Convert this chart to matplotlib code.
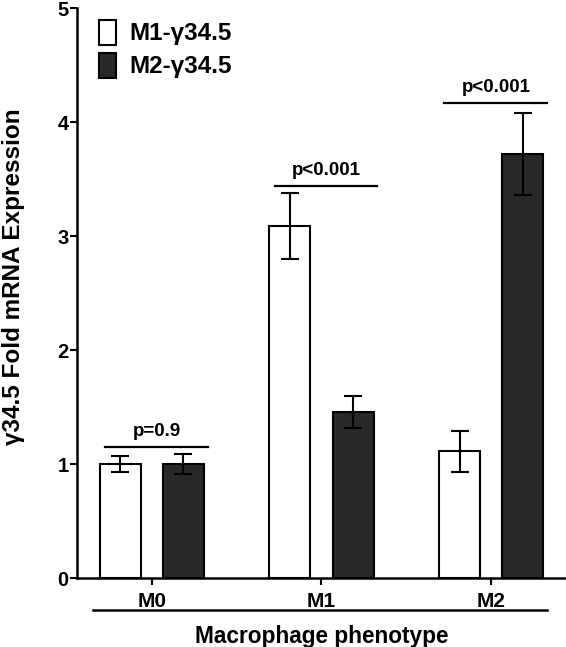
import matplotlib
matplotlib.use('Agg')
import matplotlib.pyplot as plt
from matplotlib.patches import Patch
import numpy as np

plt.rcParams['font.family'] = ['Liberation Sans', 'DejaVu Sans']
plt.rcParams['font.weight'] = 'bold'

# Datos
fenotipos = ['M0', 'M1', 'M2']
m1_media = [1.00, 3.09, 1.11]
m1_err = [0.07, 0.29, 0.18]
m2_media = [1.00, 1.46, 3.72]
m2_err = [0.09, 0.14, 0.36]
p_textos = ['p=0.9', 'p<0.001', 'p<0.001']
p_alturas = [1.15, 3.44, 4.17]

fig = plt.figure(figsize=(5.66, 6.47), dpi=100)
ax = fig.add_axes([0.136, 0.1066, 0.864, 0.881])

x = np.arange(len(fenotipos))
ancho = 0.242
desp = 0.186
err_kw = dict(ecolor='black', elinewidth=1.5, capsize=6.5, capthick=1.5)

ax.bar(x - desp, m1_media, ancho, yerr=m1_err, color='white', edgecolor='black',
       linewidth=1.5, error_kw=err_kw, label='M1-γ34.5')
ax.bar(x + desp, m2_media, ancho, yerr=m2_err, color='#282828', edgecolor='black',
       linewidth=1.5, error_kw=err_kw, label='M2-γ34.5')

# lineas de significancia
for i in range(len(fenotipos)):
    ax.plot([x[i] - 0.275, x[i] + 0.33], [p_alturas[i], p_alturas[i]], color='black', lw=1.6)
    ax.text(x[i] + 0.03, p_alturas[i] + 0.06, p_textos[i], ha='center', va='bottom',
            fontsize=13.5, fontweight='bold')

ax.set_xlim(-0.442, 2.442)
ax.set_ylim(0, 5)
ax.set_yticks([0, 1, 2, 3, 4, 5])
ax.set_xticks(x)
ax.set_xticklabels(fenotipos, fontsize=15, fontweight='bold')
ax.tick_params(axis='y', labelsize=14.5, width=1.5, length=5, pad=1)
ax.tick_params(axis='x', width=1.5, length=5, pad=5)
for lab in ax.get_yticklabels():
    lab.set_fontweight('bold')

ax.spines['top'].set_visible(False)
ax.spines['right'].set_visible(False)
ax.spines['left'].set_linewidth(1.8)
ax.spines['bottom'].set_linewidth(1.8)

ax.set_ylabel('γ34.5 Fold mRNA Expression', fontsize=17.5, fontweight='bold')
ax.yaxis.set_label_coords(-0.106, 0.528)
ax.set_xlabel('Macrophage phenotype', fontsize=16.3, fontweight='bold', labelpad=10)

# linea bajo las etiquetas
trans = ax.get_xaxis_transform()
ax.plot([-0.348, 2.33], [-0.056, -0.056], color='black', lw=1.8, transform=trans, clip_on=False)

handles = [Patch(facecolor='white', edgecolor='black', linewidth=1.5),
           Patch(facecolor='#282828', edgecolor='black', linewidth=1.5)]
ax.legend(handles, ['M1-γ34.5', 'M2-γ34.5'], loc='upper left', bbox_to_anchor=(0.0, 1.018),
          frameon=False, prop={'size': 17.5, 'weight': 'bold'}, handlelength=0.7,
          handleheight=1.2, handletextpad=0.55, labelspacing=0.3)

fig.savefig('out.png', dpi=100)
